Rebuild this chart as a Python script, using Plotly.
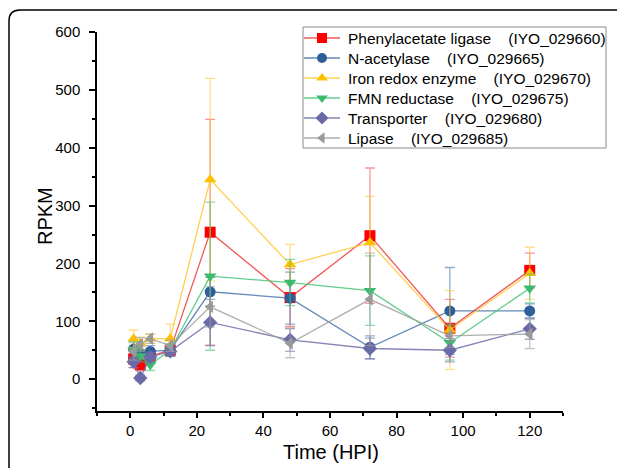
import plotly.graph_objects as go

times = [1, 3, 6, 12, 24, 48, 72, 96, 120]

names = [
    "Phenylacetate ligase",
    "N-acetylase",
    "Iron redox enzyme",
    "FMN reductase",
    "Transporter",
    "Lipase",
]
gene_ids = ["(IYO_029660)", "(IYO_029665)", "(IYO_029670)", "(IYO_029675)", "(IYO_029680)", "(IYO_029685)"]

phenyl = [35, 25, 40, 50, 254, 141, 248, 88, 188]
phenyl_err = [15, 10, 10, 10, 195, 50, 117, 50, 30]
nacet = [52, 45, 48, 50, 151, 140, 55, 118, 118]
nacet_err = [15, 12, 10, 10, 25, 45, 20, 75, 12]
iron = [70, 62, 70, 70, 345, 198, 236, 85, 183]
iron_err = [15, 10, 8, 25, 175, 35, 80, 68, 45]
fmn = [50, 40, 25, 50, 178, 167, 153, 63, 157]
fmn_err = [15, 10, 10, 10, 128, 40, 60, 30, 25]
transp = [30, 2, 38, 48, 98, 68, 53, 50, 87]
transp_err = [10, 5, 8, 8, 40, 20, 18, 20, 18]
lipase = [48, 60, 70, 58, 125, 62, 138, 75, 78]
lipase_err = [15, 12, 8, 10, 35, 25, 80, 20, 25]

series = [phenyl, nacet, iron, fmn, transp, lipase]
errors = [phenyl_err, nacet_err, iron_err, fmn_err, transp_err, lipase_err]
symbols = ["square", "circle", "triangle-up", "triangle-down", "diamond", "triangle-left"]
marker_colors = ["#FF0000", "#2F5F98", "#FFC000", "#3CB96E", "#6A6AA8", "#9A9A9A"]
line_colors = ["rgba(240,60,60,0.85)", "rgba(70,115,170,0.85)", "rgba(255,200,50,0.85)",
               "rgba(70,195,120,0.85)", "rgba(110,110,170,0.85)", "rgba(160,160,160,0.85)"]
err_colors = ["rgba(240,80,80,0.6)", "rgba(70,115,170,0.6)", "rgba(255,200,60,0.6)",
              "rgba(70,195,120,0.6)", "rgba(110,110,170,0.6)", "rgba(160,160,160,0.6)"]

font = "Arial, Liberation Sans, sans-serif"

# Geometry in screen pixels (page body has an 8px margin)
OFF = 8
L, R, T, B = 97, 563, 32, 411
def px(x):
    return (x - L) / (R - L)
def py(y):
    return (B - y) / (B - T)

fig = go.Figure()
for n, y, e, s, mc, lc, ec in zip(names, series, errors, symbols, marker_colors, line_colors, err_colors):
    fig.add_trace(go.Scatter(
        x=times, y=y, name=n, mode="lines+markers", showlegend=False,
        line=dict(color=lc, width=1.3),
        marker=dict(symbol=s, size=11, color=mc, line=dict(width=0)),
        error_y=dict(type="data", array=e, visible=True, color=ec, thickness=1.3, width=5),
    ))

# Custom legend drawn on an overlay axis in screen-pixel units
LEG_X0, LEG_X1, LEG_Y0, LEG_Y1 = 303, 606, 27, 148
row_y = [38 + 20 * i for i in range(len(names))]
annotations = []
for i, (n, gid, s, mc, lc) in enumerate(zip(names, gene_ids, symbols, marker_colors, line_colors)):
    yy = row_y[i]
    fig.add_trace(go.Scatter(
        x=[304, 340], y=[yy, yy], mode="lines", xaxis="x2", yaxis="y2",
        line=dict(color=lc, width=1.3), showlegend=False, hoverinfo="skip"))
    fig.add_trace(go.Scatter(
        x=[322], y=[yy], mode="markers", xaxis="x2", yaxis="y2", cliponaxis=False,
        marker=dict(symbol=s, size=10, color=mc, line=dict(width=0)),
        showlegend=False, hoverinfo="skip"))
    annotations.append(dict(
        x=346, y=yy, xref="x2", yref="y2", xanchor="left", yanchor="middle",
        text=n + "\u00a0\u00a0\u00a0\u00a0" + gid, showarrow=False,
        font=dict(size=15.5, family=font, color="black")))

# axis titles
annotations.append(dict(x=px(331), y=py(452), xref="paper", yref="paper",
                        xanchor="center", yanchor="middle", text="Time (HPI)",
                        showarrow=False, font=dict(size=20, family=font, color="black")))
annotations.append(dict(x=px(45), y=py(216), xref="paper", yref="paper",
                        xanchor="center", yanchor="middle", text="RPKM", textangle=-90,
                        showarrow=False, font=dict(size=20, family=font, color="black")))

path = (f"M {px(9)},{py(480)} L {px(9)},{py(21)} "
        f"Q {px(9)},{py(10)} {px(20)},{py(10)} L {px(650)},{py(10)}")

fig.update_layout(
    width=625, height=468,
    margin=dict(l=L - OFF, r=625 - (R - OFF), t=T - OFF, b=468 - (B - OFF)),
    paper_bgcolor="white", plot_bgcolor="white",
    font=dict(family=font, size=15, color="black"),
    showlegend=False,
    annotations=annotations,
    xaxis=dict(range=[-10, 130], tickvals=[0, 20, 40, 60, 80, 100, 120],
               ticks="outside", ticklen=5, tickwidth=1.5, tickcolor="black",
               ticklabelstandoff=0,
               showline=True, linecolor="black", linewidth=1.5, showgrid=False, zeroline=False,
               minor=dict(tickvals=[-10, 10, 30, 50, 70, 90, 110, 130], ticks="outside",
                          ticklen=3, tickwidth=1.5, tickcolor="black"),
               tickfont=dict(size=15)),
    yaxis=dict(range=[-55, 600], tickvals=[0, 100, 200, 300, 400, 500, 600],
               ticks="outside", ticklen=6, tickwidth=1.5, tickcolor="black",
               ticklabelstandoff=6,
               showline=True, linecolor="black", linewidth=1.5, showgrid=False, zeroline=False,
               minor=dict(tickvals=[-50, 50, 150, 250, 350, 450, 550], ticks="outside",
                          ticklen=3, tickwidth=1.5, tickcolor="black"),
               tickfont=dict(size=15)),
    xaxis2=dict(overlaying="x", range=[L, R], visible=False, fixedrange=True),
    yaxis2=dict(overlaying="y", range=[B, T], visible=False, fixedrange=True),
    shapes=[
        dict(type="path", xref="paper", yref="paper", path=path,
             line=dict(color="black", width=1.5)),
        dict(type="rect", xref="paper", yref="paper",
             x0=px(LEG_X0), x1=px(LEG_X1), y0=py(LEG_Y1), y1=py(LEG_Y0),
             line=dict(color="#8a8a8a", width=1), fillcolor="rgba(0,0,0,0)", layer="above"),
    ],
)

fig.write_html("out.html")
